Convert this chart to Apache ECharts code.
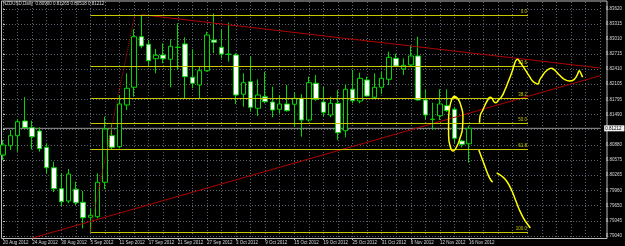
<!DOCTYPE html>
<html>
<head>
<meta charset="utf-8">
<script src="https://cdn.jsdelivr.net/npm/echarts@6/dist/echarts.min.js"></script>
<style>
    html, body { margin: 0; padding: 0; background: #000; }
    #nzdusd-chart { width: 625px; height: 246px; }
</style>
</head>
<body>
<div id="nzdusd-chart"></div>
<script>
/* NZDUSD daily bars, 20 Aug - 16 Nov 2012. */
const dates = [
    '20 Aug 2012', '21 Aug 2012', '22 Aug 2012', '23 Aug 2012', '24 Aug 2012',
    '27 Aug 2012', '28 Aug 2012', '29 Aug 2012', '30 Aug 2012', '31 Aug 2012',
    '3 Sep 2012', '4 Sep 2012', '5 Sep 2012', '6 Sep 2012', '7 Sep 2012',
    '10 Sep 2012', '11 Sep 2012', '12 Sep 2012', '13 Sep 2012', '14 Sep 2012',
    '17 Sep 2012', '18 Sep 2012', '19 Sep 2012', '20 Sep 2012', '21 Sep 2012',
    '24 Sep 2012', '25 Sep 2012', '26 Sep 2012', '27 Sep 2012', '28 Sep 2012',
    '1 Oct 2012', '2 Oct 2012', '3 Oct 2012', '4 Oct 2012', '5 Oct 2012',
    '8 Oct 2012', '9 Oct 2012', '10 Oct 2012', '11 Oct 2012', '12 Oct 2012',
    '15 Oct 2012', '16 Oct 2012', '17 Oct 2012', '18 Oct 2012', '19 Oct 2012',
    '22 Oct 2012', '23 Oct 2012', '24 Oct 2012', '25 Oct 2012', '26 Oct 2012',
    '29 Oct 2012', '30 Oct 2012', '31 Oct 2012', '1 Nov 2012', '2 Nov 2012',
    '5 Nov 2012', '6 Nov 2012', '7 Nov 2012', '8 Nov 2012', '9 Nov 2012',
    '12 Nov 2012', '13 Nov 2012', '14 Nov 2012', '15 Nov 2012', '16 Nov 2012'
];
const empty_slots = 18;   // chart shift: blank bars right of the last candle

const opens = [
    0.80674, 0.80861, 0.81063, 0.81360, 0.81225, 0.81158, 0.80829, 0.80417, 0.79994, 0.79745,
    0.79982, 0.79719, 0.79417, 0.79429, 0.80123, 0.81063, 0.80841, 0.81683, 0.82040, 0.83061,
    0.82908, 0.82617, 0.82692, 0.82605, 0.82843, 0.82914, 0.82242, 0.82086, 0.82375, 0.82994,
    0.82847, 0.82712, 0.82692, 0.81899, 0.82153, 0.81616, 0.81850, 0.81743, 0.81596, 0.81703,
    0.81697, 0.81818, 0.81380, 0.82121, 0.81743, 0.81481, 0.81717, 0.81164, 0.82000, 0.81763,
    0.82187, 0.81838, 0.82040, 0.82201, 0.82625, 0.82409, 0.82490, 0.82672, 0.81784, 0.81390,
    0.81467, 0.81669, 0.81596, 0.80956, 0.80900
];
const closes = [
    0.80876, 0.81063, 0.81346, 0.81225, 0.81043, 0.80801, 0.80417, 0.79994, 0.79731, 0.80290,
    0.79711, 0.79408, 0.79457, 0.80123, 0.81198, 0.80829, 0.81703, 0.82020, 0.83061, 0.82873,
    0.82577, 0.82686, 0.82617, 0.82867, 0.82849, 0.82254, 0.82121, 0.82375, 0.83095, 0.82948,
    0.82712, 0.82702, 0.81885, 0.82133, 0.81636, 0.81885, 0.81749, 0.81582, 0.81703, 0.81568,
    0.81818, 0.81380, 0.82133, 0.81798, 0.81535, 0.81717, 0.81124, 0.82000, 0.81770, 0.82221,
    0.81864, 0.82040, 0.82221, 0.82645, 0.82470, 0.82484, 0.82672, 0.81784, 0.81481, 0.81396,
    0.81703, 0.81568, 0.81011, 0.80890, 0.81212
];
const lows = [
    0.80573, 0.80775, 0.80740, 0.81219, 0.80789, 0.80740, 0.80290, 0.79927, 0.79645, 0.79699,
    0.79665, 0.79194, 0.79120, 0.79396, 0.79982, 0.80775, 0.80809, 0.81582, 0.81850, 0.82827,
    0.82476, 0.82322, 0.82524, 0.82040, 0.82389, 0.81818, 0.82020, 0.81818, 0.82355, 0.82726,
    0.82625, 0.82556, 0.81703, 0.81648, 0.81547, 0.81461, 0.81717, 0.81435, 0.81515, 0.81547,
    0.81245, 0.81043, 0.81346, 0.81770, 0.81447, 0.81435, 0.80976, 0.81031, 0.81717, 0.81717,
    0.81850, 0.81818, 0.81905, 0.82086, 0.82456, 0.82288, 0.82456, 0.81773, 0.81394, 0.81178,
    0.81380, 0.81547, 0.80910, 0.80829, 0.80518
];
const highs = [
    0.80976, 0.81178, 0.81400, 0.81838, 0.81366, 0.81233, 0.80910, 0.80539, 0.80304, 0.80391,
    0.80135, 0.79947, 0.79598, 0.80304, 0.81447, 0.81293, 0.81885, 0.82322, 0.83210, 0.83493,
    0.82994, 0.82813, 0.82928, 0.83009, 0.83331, 0.83049, 0.82807, 0.82456, 0.83162, 0.83530,
    0.83210, 0.83344, 0.82726, 0.82322, 0.82657, 0.82201, 0.82355, 0.82052, 0.81885, 0.82086,
    0.81931, 0.81899, 0.82254, 0.82288, 0.82052, 0.81850, 0.81985, 0.82086, 0.82389, 0.82335,
    0.82254, 0.82322, 0.82355, 0.82758, 0.82712, 0.82625, 0.82894, 0.83061, 0.81985, 0.81729,
    0.82000, 0.82000, 0.81648, 0.80976, 0.81265
];

/* Price scale tick labels as printed on the right. */
const price_ticks = [
    0.83620, 0.83315, 0.83010, 0.82715, 0.82410, 0.82105, 0.81795, 0.81490,
    0.81185, 0.80880, 0.80575, 0.80265, 0.79960, 0.79650, 0.79345, 0.79040
];
const hidden_tick = 0.81185;   // covered by the bid label
const price_min = 0.78999;
const price_max = 0.83761;
const last_price = 0.81212;

/* Fibonacci retracement (bar index, price). */
const fib_levels = [0.83493, 0.82461, 0.81823, 0.81307, 0.80790, 0.79120];
const fib_names = ['0.0', '23.6', '38.2', '50.0', '61.8', '100.0'];
const fib_span = [12, 72.1];
const fib_diagonal = [[11.95, 0.79120], [18.09, 0.83493]];

/* Trend lines (bar index, price). */
const upper_trend = [[19.02, 0.83505], [82, 0.82429]];
const lower_trend = [[4.04, 0.78999], [82, 0.82274]];

/* Hand drawn yellow strokes (bar index, price). */
const ellipse_stroke = [
    [61.94, 0.81864], [62.48, 0.81804], [62.89, 0.81663], [63.16, 0.81461], [63.10, 0.81219],
    [62.76, 0.81017], [62.35, 0.80855], [61.80, 0.80755], [61.39, 0.80855], [61.19, 0.81077],
    [61.19, 0.81380], [61.33, 0.81622], [61.60, 0.81784], [61.94, 0.81864]
];
const wave_up_stroke = [
    [65.44, 0.81326], [65.52, 0.81461], [65.89, 0.81582], [66.20, 0.81683], [66.57, 0.81784],
    [66.88, 0.81838], [67.15, 0.81818], [67.42, 0.81749], [67.70, 0.81729], [68.02, 0.81784],
    [68.47, 0.81850], [68.92, 0.81985], [69.38, 0.82153], [69.83, 0.82322], [70.15, 0.82470],
    [70.42, 0.82577], [70.65, 0.82605], [70.96, 0.82556], [71.43, 0.82456], [71.88, 0.82355],
    [72.32, 0.82254], [72.69, 0.82173], [73.01, 0.82133], [73.47, 0.82106], [73.69, 0.82187],
    [74.15, 0.82288], [74.60, 0.82369], [75.28, 0.82423], [75.73, 0.82389], [76.41, 0.82288],
    [77.09, 0.82201], [77.77, 0.82167], [78.45, 0.82201], [78.91, 0.82308], [79.13, 0.82375],
    [79.36, 0.82322], [79.59, 0.82242]
];
const wave_down_stroke_a = [
    [65.34, 0.80775], [65.75, 0.80613], [66.16, 0.80452], [66.57, 0.80290], [66.98, 0.80169],
    [67.25, 0.80129]
];
const wave_down_stroke_b = [
    [67.79, 0.80311], [68.47, 0.80250], [69.15, 0.80149], [69.83, 0.79967], [70.38, 0.79766],
    [70.92, 0.79564], [71.47, 0.79402], [72.01, 0.79281], [72.42, 0.79201]
];

const text_font = 'Liberation Sans';
const grid_line_color = '#5d6673';
const candle_green = '#00d800';
const fib_color = '#c8c800';
const trend_color = '#b00000';
const pen_color = '#ffff00';

let categories = dates.slice();
for (let i = 0; i < empty_slots; i++) {
    categories.push('');
}
let last_slot = categories.length - 1;

let candle_data = dates.map(function (d, i) {
    return [opens[i], closes[i], lows[i], highs[i]];
});

let last = dates.length - 1;
let header_text = 'NZDUSD,Daily  ' + opens[last].toFixed(5) + ' ' + highs[last].toFixed(5) + ' ' +
    lows[last].toFixed(5) + ' ' + closes[last].toFixed(5);

function pen_series(data) {
    return {
        type: 'line',
        xAxisIndex: 1,
        data: data,
        symbol: 'none',
        smooth: true,
        silent: true,
        z: 5,
        lineStyle: { color: pen_color, width: 1.5 }
    };
}

let echarts_nzdusd = echarts.init(document.getElementById('nzdusd-chart'));

let echarts_options = {
    backgroundColor: '#000000',
    animation: false,
    title: {
        text: header_text,
        left: 3,
        top: 1,
        padding: 0,
        textStyle: { color: '#d8d8d8', fontSize: 4.5, fontWeight: 'normal', fontFamily: text_font }
    },
    grid: [
        { left: 2, top: 2, width: 602.4, height: 236, show: false },
        { left: 1.5, top: 1, width: 605.5, height: 237.5, show: true, borderColor: '#bdbdbd', borderWidth: 1, backgroundColor: 'transparent' }
    ],
    xAxis: [
        {
            type: 'category',
            gridIndex: 0,
            data: categories,
            boundaryGap: false,
            axisLine: { show: false },
            axisTick: {
                show: true,
                length: 2,
                interval: function (index) { return index < dates.length && index % 4 === 0; },
                lineStyle: { color: '#bdbdbd' }
            },
            axisLabel: {
                color: '#d8d8d8',
                fontSize: 4.5,
                fontFamily: text_font,
                align: 'left',
                margin: 2,
                interval: function (index) { return index < dates.length && index % 4 === 0; }
            },
            splitLine: {
                show: true,
                interval: function (index) { return index % 2 === 0; },
                lineStyle: { color: grid_line_color, type: [1, 2], width: 1 }
            }
        },
        {
            type: 'value',
            gridIndex: 0,
            min: 0,
            max: last_slot,
            show: false
        }
    ],
    yAxis: [
        {
            type: 'value',
            gridIndex: 0,
            position: 'right',
            offset: 2.6,
            min: price_min,
            max: price_max,
            axisLine: { show: false },
            axisTick: {
                show: true,
                length: 2,
                customValues: price_ticks,
                lineStyle: { color: '#bdbdbd' }
            },
            axisLabel: {
                color: '#d8d8d8',
                fontSize: 4.5,
                fontFamily: text_font,
                margin: 3,
                customValues: price_ticks.filter(function (v) { return v !== hidden_tick; }),
                formatter: function (v) { return v.toFixed(5); }
            },
            splitLine: {
                show: true,
                lineStyle: { color: grid_line_color, type: [1, 2], width: 1 }
            }
        }
    ],
    series: [
        {
            name: 'NZDUSD',
            type: 'candlestick',
            xAxisIndex: 0,
            yAxisIndex: 0,
            data: candle_data,
            barWidth: 5,
            z: 3,
            itemStyle: {
                color: '#000000',
                color0: '#ffffff',
                borderColor: candle_green,
                borderColor0: candle_green,
                borderWidth: 1
            }
        },
        {
            name: 'bid',
            type: 'line',
            xAxisIndex: 1,
            data: [[0, last_price], [last_slot, last_price]],
            symbol: 'none',
            silent: true,
            clip: false,
            z: 2,
            lineStyle: { color: '#9a9a9a', width: 1 },
            endLabel: {
                show: true,
                distance: 4,
                color: '#000000',
                backgroundColor: '#f0f0f0',
                padding: [1, 3, 0, 1],
                fontSize: 4.5,
                fontFamily: text_font,
                formatter: function () { return last_price.toFixed(5); }
            }
        },
        {
            name: 'fibo',
            type: 'line',
            xAxisIndex: 1,
            data: fib_diagonal,
            symbol: 'none',
            silent: true,
            z: 4,
            lineStyle: { color: '#d00000', width: 1, type: 'dotted' },
            markLine: {
                silent: true,
                symbol: ['none', 'none'],
                lineStyle: { color: fib_color, width: 1, type: 'solid' },
                label: {
                    show: true,
                    position: 'insideEndTop',
                    distance: 1,
                    color: fib_color,
                    fontSize: 4.5,
                    fontFamily: text_font,
                    formatter: '{b}'
                },
                data: fib_levels.map(function (v, i) {
                    return [
                        { name: fib_names[i], coord: [fib_span[0], v] },
                        { coord: [fib_span[1], v] }
                    ];
                })
            }
        },
        {
            name: 'upper trend',
            type: 'line',
            xAxisIndex: 1,
            data: upper_trend,
            symbol: 'none',
            silent: true,
            z: 4,
            lineStyle: { color: trend_color, width: 1 }
        },
        {
            name: 'lower trend',
            type: 'line',
            xAxisIndex: 1,
            data: lower_trend,
            symbol: 'none',
            silent: true,
            z: 4,
            lineStyle: { color: trend_color, width: 1 }
        },
        pen_series(ellipse_stroke),
        pen_series(wave_up_stroke),
        pen_series(wave_down_stroke_a),
        pen_series(wave_down_stroke_b)
    ]
};

echarts_nzdusd.setOption(echarts_options);
</script>
</body>
</html>
